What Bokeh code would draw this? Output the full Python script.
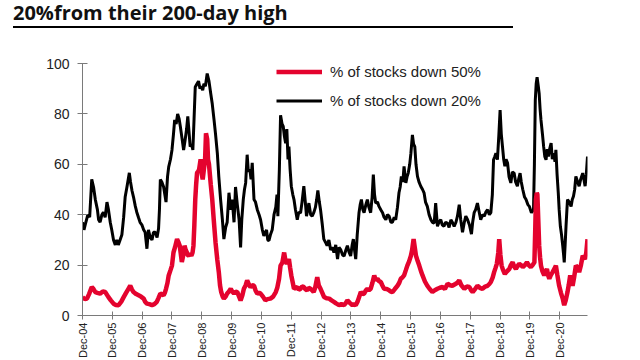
import math
from bokeh.plotting import figure
from bokeh.models import Div, Legend, LegendItem, FixedTicker, Range1d
from bokeh.layouts import column
from bokeh.embed import file_html
from bokeh.resources import INLINE

# ---- data (x = years after Dec-2004) ----
years_20 = [0.00, 0.05, 0.09, 0.18, 0.24, 0.31, 0.37, 0.43, 0.50, 0.54, 0.59, 0.65, 0.70, 0.76, 0.82, 0.87, 0.93, 0.98,
            1.04, 1.10, 1.15, 1.20, 1.26, 1.32, 1.38, 1.43, 1.49, 1.57, 1.61, 1.66, 1.71, 1.77, 1.82, 1.88, 1.93, 1.99,
            2.05, 2.10, 2.16, 2.21, 2.27, 2.33, 2.38, 2.44, 2.50, 2.55, 2.58, 2.61, 2.66, 2.72, 2.76, 2.80, 2.85, 2.89,
            2.95, 3.00, 3.05, 3.09, 3.14, 3.19, 3.24, 3.28, 3.34, 3.39, 3.44, 3.49, 3.53, 3.57, 3.61, 3.66, 3.70, 3.74,
            3.78, 3.84, 3.89, 3.94, 3.98, 4.03, 4.07, 4.12, 4.18, 4.24, 4.30, 4.35, 4.41, 4.46, 4.52, 4.57, 4.63, 4.69,
            4.74, 4.80, 4.85, 4.91, 4.97, 5.02, 5.08, 5.13, 5.19, 5.25, 5.30, 5.34, 5.39, 5.43, 5.47, 5.52, 5.56, 5.61,
            5.65, 5.69, 5.75, 5.80, 5.86, 5.92, 5.97, 6.03, 6.08, 6.13, 6.17, 6.21, 6.25, 6.30, 6.36, 6.42, 6.48, 6.52,
            6.55, 6.60, 6.64, 6.69, 6.73, 6.77, 6.81, 6.85, 6.89, 6.92, 6.96, 7.00, 7.05, 7.09, 7.14, 7.20, 7.25, 7.31,
            7.36, 7.42, 7.47, 7.51, 7.55, 7.59, 7.65, 7.70, 7.76, 7.81, 7.85, 7.89, 7.94, 7.98, 8.04, 8.09, 8.15, 8.20,
            8.26, 8.32, 8.38, 8.43, 8.49, 8.55, 8.60, 8.66, 8.72, 8.77, 8.83, 8.88, 8.94, 8.99, 9.04, 9.08, 9.12, 9.16,
            9.21, 9.27, 9.31, 9.35, 9.40, 9.44, 9.50, 9.55, 9.60, 9.66, 9.71, 9.75, 9.79, 9.83, 9.89, 9.94, 10.00, 10.06,
            10.11, 10.17, 10.22, 10.28, 10.34, 10.39, 10.45, 10.50, 10.56, 10.61, 10.65, 10.69, 10.74, 10.78, 10.84,
            10.88, 10.92, 10.97, 11.01, 11.06, 11.10, 11.14, 11.18, 11.23, 11.28, 11.34, 11.40, 11.45, 11.50, 11.56,
            11.62, 11.68, 11.73, 11.79, 11.84, 11.90, 11.95, 12.01, 12.06, 12.12, 12.17, 12.23, 12.29, 12.35, 12.40,
            12.46, 12.52, 12.57, 12.63, 12.68, 12.74, 12.80, 12.85, 12.91, 12.97, 13.04, 13.08, 13.13, 13.18, 13.24,
            13.30, 13.35, 13.41, 13.47, 13.52, 13.58, 13.64, 13.69, 13.74, 13.78, 13.82, 13.86, 13.91, 13.96, 14.00,
            14.04, 14.08, 14.12, 14.16, 14.20, 14.25, 14.30, 14.36, 14.41, 14.47, 14.52, 14.58, 14.62, 14.67, 14.71,
            14.76, 14.82, 14.87, 14.93, 14.98, 15.05, 15.12, 15.15, 15.18, 15.21, 15.24, 15.28, 15.31, 15.34, 15.37,
            15.42, 15.46, 15.50, 15.54, 15.58, 15.62, 15.66, 15.71, 15.75, 15.80, 15.84, 15.87, 15.91, 15.95, 15.98,
            16.02, 16.06, 16.10, 16.13, 16.15, 16.18, 16.21, 16.24, 16.26, 16.32, 16.38, 16.42, 16.46, 16.50, 16.54,
            16.60, 16.65, 16.70, 16.77, 16.81, 16.85, 16.89, 16.93]
pct_down_20 = [37, 34, 36, 40, 39, 54, 51, 46, 42, 38, 37, 40, 41, 39, 45, 42, 37, 34,
               30, 28, 30, 28, 30, 32, 39, 47, 51, 56.6, 53, 49.5, 47, 43.4, 41, 38.8, 37, 36,
               34, 33, 26.5, 34, 31, 30, 33, 33, 31, 34.5, 42, 54, 53, 51, 48, 45, 55, 59,
               62, 65.7, 72, 77.6, 76, 80, 78, 75, 70, 65.7, 69.6, 74, 79, 73, 67, 68, 65.7, 78,
               90.7, 92, 93, 90, 91, 89.4, 92, 91, 96, 93, 88, 84, 77.6, 72, 64.4, 55, 46, 38,
               30.3, 35, 37, 48.7, 42, 46, 37, 51, 44, 38, 27, 38, 46, 50, 52.6, 63.8, 57, 58,
               54, 60.6, 46, 45, 42, 40, 38, 34, 31.6, 33, 34, 30, 29.7, 32, 34, 40, 43, 48,
               39.4, 58, 79.5, 76, 75, 71, 68.4, 74, 61.9, 67, 58, 51.3, 48, 46, 42, 38, 41, 40.7,
               45, 51.3, 45, 39.4, 42, 44.6, 40, 39.4, 41, 43, 46, 49.6, 45, 42, 36, 30.3, 29, 27.7,
               30, 26, 27, 25, 28, 22.4, 27, 26, 24, 23.6, 26, 27.7, 25, 23.6, 28, 30.3, 26, 22.4,
               32, 40.8, 44, 46, 42, 40.8, 44, 46, 43, 40.8, 47, 55.9, 48, 44.6, 45, 43.3, 42, 40.8,
               39, 38, 40, 39.4, 37, 37, 39, 38, 43, 48.7, 51, 55.2, 53, 59.2, 52.6,
               55, 56.5, 60, 64.4, 71.7, 68, 67, 60, 55.2, 53, 51.3, 50, 48.7, 45, 43.3,
               40, 38, 37, 36.7, 44.6, 35.4, 37, 38, 36, 35.4, 37, 36.7, 35, 38, 37,
               35.4, 37, 39.4, 44, 38, 33, 37, 39.4, 38, 36, 32.3, 37, 40.8, 42, 44.6,
               41, 38, 40, 39.4, 41, 42, 40, 40.8, 48, 61.8, 63, 64.4, 61.8, 72, 81.5,
               72, 67, 62, 59.2, 62, 60.5, 55, 52.6, 57, 56.5, 53, 51.3, 54, 56.5, 53,
               50, 47, 46, 44, 43.3, 40.8, 42, 60, 85.4, 92, 94.6, 91, 88, 82, 77.6,
               72, 67, 63, 61.8, 66, 63.1, 66, 68.4, 62, 64.4, 61, 65.7, 56, 48.7, 42,
               35.4, 32, 27.6, 24, 21.1, 28, 35.4, 42, 46, 45, 43.3, 46, 47.3, 50, 55.2,
               53, 51.3, 54, 56.5, 54, 51.3, 56, 63.1]

years_50 = [0.00, 0.08, 0.15, 0.22, 0.31, 0.37, 0.43, 0.50, 0.59, 0.68, 0.76, 0.87, 0.95, 1.04, 1.12, 1.21, 1.30, 1.38,
            1.46, 1.54, 1.60, 1.65, 1.71, 1.80, 1.88, 1.96, 2.05, 2.10, 2.16, 2.24, 2.33, 2.41, 2.49, 2.55, 2.61, 2.66,
            2.72, 2.76, 2.80, 2.85, 2.89, 2.95, 3.00, 3.05, 3.10, 3.17, 3.22, 3.26, 3.30, 3.33, 3.38, 3.42, 3.46, 3.50,
            3.53, 3.56, 3.60, 3.65, 3.69, 3.72, 3.75, 3.78, 3.81, 3.84, 3.87, 3.91, 3.96, 4.00, 4.03, 4.07, 4.11, 4.14,
            4.18, 4.21, 4.24, 4.30, 4.35, 4.40, 4.46, 4.52, 4.57, 4.61, 4.65, 4.70, 4.74, 4.80, 4.85, 4.91, 4.97, 5.02,
            5.08, 5.13, 5.19, 5.25, 5.30, 5.36, 5.41, 5.47, 5.52, 5.57, 5.63, 5.69, 5.75, 5.80, 5.86, 5.92, 5.97, 6.05,
            6.13, 6.20, 6.30, 6.39, 6.48, 6.53, 6.59, 6.64, 6.70, 6.76, 6.80, 6.85, 6.92, 6.96, 7.00, 7.05, 7.09, 7.15,
            7.20, 7.25, 7.31, 7.36, 7.42, 7.47, 7.53, 7.58, 7.64, 7.70, 7.75, 7.80, 7.87, 7.92, 7.98, 8.04, 8.10, 8.18,
            8.27, 8.35, 8.43, 8.50, 8.60, 8.68, 8.77, 8.83, 8.88, 8.96, 9.05, 9.10, 9.16, 9.22, 9.28, 9.33, 9.39, 9.44,
            9.50, 9.55, 9.60, 9.66, 9.72, 9.78, 9.83, 9.89, 9.95, 10.00, 10.05, 10.11, 10.20, 10.28, 10.34, 10.39,
            10.47, 10.56, 10.62, 10.67, 10.72, 10.78, 10.84, 10.89, 10.95, 11.01, 11.05, 11.10, 11.14, 11.18, 11.24,
            11.29, 11.35, 11.40, 11.48, 11.56, 11.64, 11.73, 11.81, 11.90, 11.98, 12.07, 12.15, 12.24, 12.32, 12.40,
            12.50, 12.57, 12.63, 12.70, 12.80, 12.88, 12.97, 13.03, 13.08, 13.16, 13.24, 13.32, 13.41, 13.50, 13.58,
            13.64, 13.69, 13.75, 13.80, 13.85, 13.89, 13.94, 13.97, 14.01, 14.05, 14.10, 14.16, 14.23, 14.31, 14.36,
            14.42, 14.47, 14.53, 14.58, 14.64, 14.70, 14.76, 14.83, 14.90, 14.96, 15.03, 15.09, 15.15, 15.18, 15.20,
            15.23, 15.25, 15.28, 15.31, 15.34, 15.37, 15.42, 15.48, 15.52, 15.57, 15.61, 15.65, 15.70, 15.76, 15.82,
            15.87, 15.92, 15.98, 16.04, 16.10, 16.13, 16.15, 16.20, 16.26, 16.30, 16.35, 16.39, 16.43, 16.48, 16.54,
            16.60, 16.65, 16.71, 16.77, 16.81, 16.85, 16.89, 16.93]
pct_down_50 = [7.3, 6.5, 6.7, 8.5, 11.3, 10.5, 9.3, 9.0, 8.7, 9.5, 9.3, 7.3, 6, 4.7, 4.2, 4.1, 5.5, 7.3,
               9, 10.6, 11.8, 10.5, 9.3, 8.5, 8, 7.5, 6.7, 5.5, 4.7, 4.5, 4.1, 4.5, 5.4, 7, 8.7, 8.5,
               8, 9, 10.6, 13, 15.9, 18, 19.8, 25, 27, 30.3, 29, 27.7, 24, 21.2, 24, 27.7, 26, 25,
               24, 23.7, 24.5, 23.7, 25, 27.7, 36, 46, 52, 56.6, 57, 58, 62, 56, 54, 58, 62, 72.3,
               70, 61.8, 60, 52, 46, 38, 29, 22, 17.2, 12, 9.3, 7.5, 6.7, 7.5, 8.7, 9.5, 10.6, 9.5,
               8.7, 9.5, 9.3, 7.5, 6, 8, 10.6, 12, 13.9, 12.5, 11.3, 12, 11.8, 10, 8.7, 9, 8.7, 7.5,
               6, 6.5, 6.7, 7.5, 9.3, 11, 14.6, 19.8, 21, 25, 22, 20.5, 22.4, 19, 15.9, 13, 10.6, 11,
               11.3, 10.2, 10.6, 11.5, 11.3, 10.5, 10, 11, 10.6, 10, 9.3, 11, 15.2, 12, 10.6, 9, 7.3, 6.8,
               6.7, 6, 5.4, 4.8, 4.1, 4.5, 4.1, 5, 6, 5, 4.1, 4.5, 4.1, 5.5, 7.5, 9.3, 8.5, 8.7,
               10, 10.6, 10, 10.6, 13, 15.9, 14, 14.6, 13.5, 13.3, 12, 10.6, 10.5, 10, 9.5, 9.3,
               10.5, 11.8, 13, 14.6, 15, 15.9, 18, 19.8, 21.5, 23.7, 26, 30.3, 27, 23.7, 21.5,
               19.8, 17.5, 15.9, 13.5, 11.8, 10.5, 9.3, 10, 10.6, 11, 11.3, 10.5, 12.6, 12, 11.8,
               12.5, 13, 13.9, 12, 10.6, 11.5, 11.3, 10, 9.3, 10.5, 11.8, 11, 10.6, 11.5, 11.8,
               12.5, 13.3, 15, 17.2, 19, 20.5, 25, 30.3, 24, 19.8, 18, 16.5, 17.5, 18.5, 20,
               21.1, 19.5, 18.5, 19.5, 20.5, 20, 19.2, 20, 21.1, 20, 19.2, 20, 21.1, 35, 46,
               48.7, 48, 38, 27.7, 23, 19.8, 17.5, 15.9, 17, 18.5, 16, 14.6, 16, 17.2, 18.5,
               19.8, 16, 11.8, 9, 6.7, 5, 4.1, 6, 9.3, 12, 15.9, 14, 11.8, 15, 19.8,
               19, 17.2, 20, 23.7, 23, 22.4, 25, 30.3]

xtick_positions = list(range(17))
xtick_labels = ["Dec-04", "Dec-05", "Dec-06", "Dec-07", "Dec-08", "Dec-09", "Dec-10", "Dec-11", "Dec-12",
                "Dec-13", "Dec-14", "Dec-15", "Dec-16", "Dec-17", "Dec-18", "Dec-19", "Dec-20"]
ytick_values = [0, 20, 40, 60, 80, 100]
series_labels = ["% of stocks down 50%", "% of stocks down 20%"]
title_text = "20%from their 200-day high"

RED = "#e4032e"
AXIS = "#7a7a7a"
FONT = "Liberation Sans"

title = Div(text=title_text, width=500, height=28, margin=(0, 0, 0, 13),
            styles={"font-family": "Open Sans", "font-weight": "bold", "font-size": "20px",
                    "line-height": "26px", "color": "#111", "border-bottom": "2px solid #000",
                    "width": "500px", "box-sizing": "border-box", "height": "28px",
                    "white-space": "nowrap"})

p = figure(width=640, height=332, output_backend="svg", toolbar_location=None,
           x_range=Range1d(0, 16.93), y_range=Range1d(0, 100),
           min_border_left=82, min_border_right=53, min_border_top=35, min_border_bottom=43)
p.title.visible = False

r20 = p.line(years_20, pct_down_20, line_color="black", line_width=3)
r50 = p.line(years_50, pct_down_50, line_color=RED, line_width=4.5)

p.xgrid.visible = False
p.ygrid.visible = False
p.outline_line_color = None

p.xaxis.ticker = FixedTicker(ticks=xtick_positions)
p.xaxis.major_label_overrides = {k: lab for k, lab in zip(xtick_positions, xtick_labels)}
p.xaxis.major_label_orientation = math.pi / 2
p.xaxis.major_tick_in = 4
p.xaxis.major_tick_out = 4
p.xaxis.major_label_standoff = 3
p.xaxis.major_label_text_font_size = "11px"

p.yaxis.ticker = FixedTicker(ticks=ytick_values)
p.yaxis.major_tick_in = 5
p.yaxis.major_tick_out = 5
p.yaxis.major_label_standoff = 8
p.yaxis.major_label_text_font_size = "14px"

for ax in (p.xaxis, p.yaxis):
    ax.minor_tick_line_color = None
    ax.axis_line_color = AXIS
    ax.major_tick_line_color = AXIS
    ax.major_label_text_font = FONT
    ax.major_label_text_color = "#222"

legend = Legend(items=[LegendItem(label=series_labels[0], renderers=[r50]),
                       LegendItem(label=series_labels[1], renderers=[r20])],
                location=(194, 206), glyph_width=46, glyph_height=17, label_height=17,
                spacing=12, padding=0, margin=0, border_line_color=None,
                background_fill_alpha=0, label_text_font=FONT, label_text_font_size="15px",
                label_standoff=8, label_text_color="#222")
p.add_layout(legend)

layout = column(title, p)
open("out.html", "w").write(file_html(layout, INLINE))
